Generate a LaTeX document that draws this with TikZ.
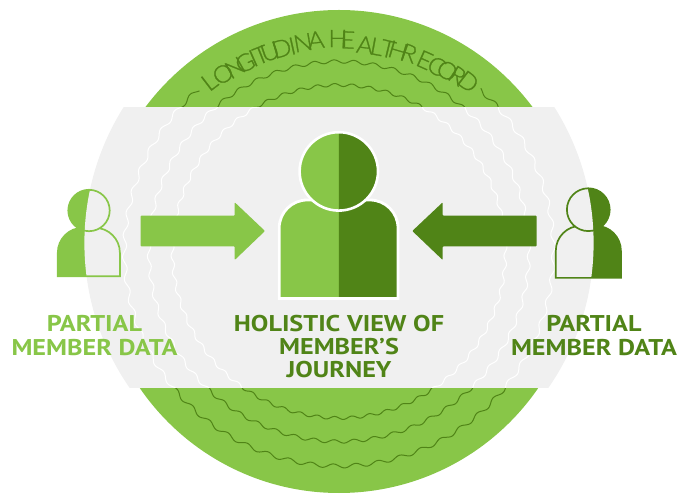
\documentclass[tikz,border=0pt]{standalone}
\usepackage{fontspec}
\setmainfont{PT Sans}[FakeStretch=1.15]
\newfontfamily\arcfont{Lato Light}[FakeBold=1,FakeStretch=1.06]
\definecolor{lightgr}{HTML}{88C648}
\definecolor{darkgr}{HTML}{508417}
\definecolor{bandgr}{HTML}{F0F0F0}
\tikzset{
  wave/.style={line width=1pt,line join=round},
  labeltext/.style={align=center,inner sep=0pt,font=\bfseries\fontsize{22.8}{24}\selectfont},
  arcletter/.style={inner sep=0pt,text height=17pt,text depth=0pt,text=darkgr,font=\arcfont\fontsize{24}{24}\selectfont}
}
\newcommand{\ringwaves}[1]{%
  \draw[wave,#1] plot[samples=721,domain=0:360,variable=\t] ({339+(166.5+1.5*sin(60*mod(\t,6)))*cos(\t)},{251.5-(166.5+1.5*sin(60*mod(\t,6)))*sin(\t)});
  \draw[wave,#1] plot[samples=721,domain=0:360,variable=\t] ({339+(190+1.7*sin(60*mod(\t,6)))*cos(\t)},{251.5-(190+1.7*sin(60*mod(\t,6)))*sin(\t)});
  \draw[wave,#1] plot[samples=560,domain=131:409,variable=\t] ({339+(214.5+2*sin(60*mod(\t,6)))*cos(\t)},{251.5-(214.5+2*sin(60*mod(\t,6)))*sin(\t)});
}
\newcommand{\lbody}{(57.8,276.2) [rounded corners=25pt] -- (57.8,227.8) -- (119.9,227.8) [sharp corners] -- (119.9,276.2) -- cycle}
\newcommand{\lhead}{(89,210.5) circle (20.7pt)}
\newcommand{\rbody}{(555.8,277.9) [rounded corners=25pt] -- (555.8,225.8) -- (620.9,225.8) [sharp corners] -- (620.9,277.9) -- cycle}
\newcommand{\rhead}{(588.3,209.7) circle (21.4pt)}
\newcommand{\cbody}{(279.2,298.6) [rounded corners=28pt] -- (279.2,200) -- (398,200) [sharp corners] -- (398,298.6) -- cycle}
\newcommand{\chead}{(338.8,171.4) circle (39.2pt)}
\newcommand{\graydisc}{(339,243) circle (254.6pt)}
\begin{document}
\begin{tikzpicture}[x=1pt,y=-1pt]
\useasboundingbox (0,0) rectangle (678,494);
% green disc and dark waves
\fill[lightgr] (339,251.5) circle (241.5pt);
\ringwaves{darkgr}
% grey band
\begin{scope}
  \clip (0,108) rectangle (678,388);
  \fill[bandgr] \graydisc;
  \ringwaves{white}
\end{scope}
% curved title
\newcounter{arcidx}
\foreach \ch/\xx/\yy in {L/209.3/81.7,O/223/74,N/235/67.7,G/245/62.7,I/253.3/58.3,T/261/55,U/270/51.7,D/281.7/48.3,I/292.3/46,N/303/42.7,A/316/40,H/338/38.5,E/347.7/40,A/365/45,L/376.7/46.7,T/388/49,H/398/50.7,R/409/53.3,E/424.7/60,C/436.7/66.2,O/447.3/70.7,R/457.3/75.7,D/468.3/81.7}{
  \stepcounter{arcidx}
  \pgfmathsetmacro{\rot}{-atan2(\xx-339,251.5-\yy)}
  \node[arcletter,rotate=\rot] (arc\arabic{arcidx}) at (\xx,\yy) {\ch};
}
% arrows
\fill[lightgr,rounded corners=0.8pt] (140.7,215.7) -- (234.7,215.7) -- (234.7,202.3) -- (265,231) -- (234.7,260) -- (234.7,246.3) -- (140.7,246.3) -- cycle;
\fill[darkgr,rounded corners=0.8pt] (536.7,215.7) -- (442.7,215.7) -- (442.7,202.3) -- (412.3,231) -- (442.7,260) -- (442.7,246.3) -- (536.7,246.3) -- cycle;
% centre person
\begin{scope}
  \clip (250,120) rectangle (338.8,310);
  \fill[lightgr] \cbody;
\end{scope}
\begin{scope}
  \clip (338.8,120) rectangle (420,310);
  \fill[darkgr] \cbody;
\end{scope}
\draw[white,line width=2.8pt] \cbody;
\begin{scope}
  \clip (250,120) rectangle (338.8,310);
  \fill[lightgr] \chead;
\end{scope}
\begin{scope}
  \clip (338.8,120) rectangle (420,310);
  \fill[darkgr] \chead;
\end{scope}
\draw[white,line width=2.6pt] \chead;
% left person
\fill[lightgr] \lbody;
\begin{scope}
  \clip \graydisc;
  \fill[bandgr] \lbody;
\end{scope}
\draw[lightgr,line width=1.7pt] \lbody;
\fill[lightgr] \lhead;
\begin{scope}
  \clip \graydisc;
  \fill[bandgr] \lhead;
\end{scope}
\draw[lightgr,line width=1.7pt] \lhead;
% right person
\fill[darkgr] \rbody;
\begin{scope}
  \clip \graydisc;
  \fill[bandgr] \rbody;
\end{scope}
\draw[darkgr,line width=1.7pt] \rbody;
\fill[darkgr] \rhead;
\begin{scope}
  \clip \graydisc;
  \fill[bandgr] \rhead;
\end{scope}
\draw[darkgr,line width=1.7pt] \rhead;
% labels
\node[labeltext,text=lightgr] (leftlabel) at (94.5,335.5) {PARTIAL\\MEMBER DATA};
\node[labeltext,text=darkgr] (rightlabel) at (594,335.5) {PARTIAL\\MEMBER DATA};
\node[labeltext,text=darkgr,font=\bfseries\fontsize{22.8}{23.3}\selectfont] (centrelabel) at (339,346.5) {HOLISTIC VIEW OF\\MEMBER’S\\JOURNEY};
\end{tikzpicture}
\end{document}
